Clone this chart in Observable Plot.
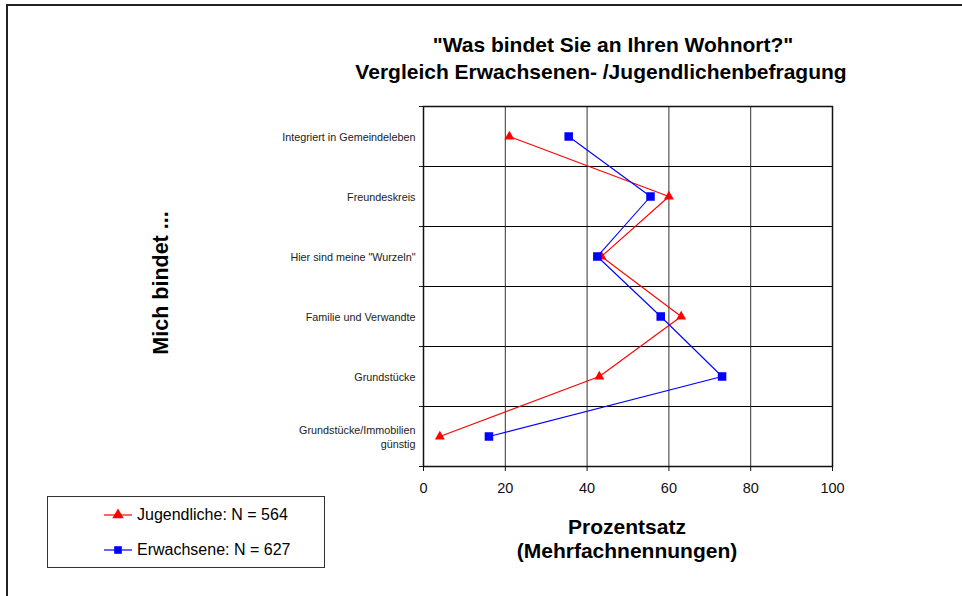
<!DOCTYPE html>
<html><head><meta charset="utf-8">
<script src="https://cdn.jsdelivr.net/npm/d3@7"></script>
<script src="https://cdn.jsdelivr.net/npm/@observablehq/plot@0.6"></script>
<style>
html,body{margin:0;padding:0;background:#fff;}
body{font-family:"Liberation Sans",Arial,sans-serif;color:#000;}
#wrap{position:relative;width:962px;height:596px;overflow:hidden;background:#fff;}
#frame{position:absolute;left:6px;top:4px;width:970px;height:600px;border-top:2px solid #222;border-left:2px solid #222;}
#chart{position:absolute;left:0;top:0;}
.t{position:absolute;white-space:nowrap;transform:translate(-50%,-50%);font-weight:bold;font-size:21px;line-height:1;}
#ytitle{position:absolute;left:162px;top:283px;transform:translate(-50%,-50%) rotate(-90deg);font-weight:bold;font-size:21.5px;white-space:nowrap;line-height:1;}
#legend{position:absolute;left:47px;top:496px;width:278px;height:72px;box-sizing:border-box;border:1.5px solid #333;background:#fff;}
.lrow{position:absolute;left:55px;height:20px;display:flex;align-items:center;transform:translateY(-50%);font-size:16px;white-space:nowrap;}
.lrow svg{margin-right:4px;}
</style>
</head><body>
<div id="wrap">
  <div id="frame"></div>
  <div id="chart"></div>
  <div class="t" style="left:613px;top:44px;">"Was bindet Sie an Ihren Wohnort?"</div>
  <div class="t" style="left:601px;top:71px;">Vergleich Erwachsenen- /Jugendlichenbefragung</div>
  <div class="t" style="left:627px;top:526px;">Prozentsatz</div>
  <div class="t" style="left:627px;top:550px;">(Mehrfachnennungen)</div>
  <div id="ytitle">Mich bindet ...</div>
  <div id="legend"></div>
</div>
<script>
const categories = ["Integriert in Gemeindeleben", "Freundeskreis", "Hier sind meine \"Wurzeln\"", "Familie und Verwandte", "Grundstücke", "Grundstücke/Immobilien günstig"];
const tickLabels = ["Integriert in Gemeindeleben", "Freundeskreis", "Hier sind meine \"Wurzeln\"", "Familie und Verwandte", "Grundstücke", "Grundstücke/Immobilien\ngünstig"];
const jugendliche = [21, 60, 43.5, 63, 43, 4];
const erwachsene = [35.5, 55.5, 42.5, 58, 73, 16];
const xTicks = [0, 20, 40, 60, 80, 100];
const seriesNames = ["Jugendliche: N = 564", "Erwachsene: N = 627"];
const seriesColors = ["#ff0000", "#0000ff"];
const seriesSymbols = ["triangle", "square"];
const seriesR = [3.7, 4.8];

const seriesValues = [jugendliche, erwachsene];
const n = categories.length;
const rowsFor = (vals) => vals.map((v, i) => ({category: categories[i], pos: i + 0.5, value: v}));

const marks = [
  Plot.gridX(xTicks.slice(1, -1), {stroke: "#333", strokeOpacity: 1}),
  Plot.gridY(d3.range(1, n), {stroke: "#000", strokeOpacity: 1}),
  Plot.frame({stroke: "#111", strokeWidth: 1.5}),
  Plot.axisX(xTicks, {tickSize: 5, tickPadding: 11, fontSize: 14.5, label: null, stroke: "#111"}),
  Plot.axisY(d3.range(0, n + 1), {tickSize: 4, tickFormat: () => "", label: null, stroke: "#111"}),
  Plot.axisY(categories.map((d, i) => i + 0.5), {tickSize: 0, tickPadding: 8, fontSize: 10.8, lineHeight: 1.3, label: null, fill: "#222", tickFormat: (d) => tickLabels[Math.floor(d)]})
];
seriesValues.forEach((vals, k) => {
  const rows = rowsFor(vals);
  marks.push(Plot.line(rows, {x: "value", y: "pos", stroke: seriesColors[k], strokeWidth: 1.1}));
  marks.push(Plot.dot(rows, {x: "value", y: "pos", symbol: seriesSymbols[k], fill: seriesColors[k], r: seriesR[k], stroke: "none"}));
});

const chart = Plot.plot({
  width: 962, height: 596,
  marginLeft: 423, marginRight: 130, marginTop: 106, marginBottom: 130,
  style: {fontFamily: "Liberation Sans, Arial, sans-serif", background: "transparent", overflow: "visible", color: "#111"},
  x: {domain: [0, 100]},
  y: {domain: [0, n], reverse: true},
  marks
});
document.getElementById("chart").appendChild(chart);

// legend
const legend = document.getElementById("legend");
const symPath = {
  triangle: d3.symbol(d3.symbolTriangle, Math.PI * seriesR[0] * seriesR[0] * 1.3)(),
  square: d3.symbol(d3.symbolSquare, Math.PI * seriesR[1] * seriesR[1] * 0.8)()
};
seriesNames.forEach((name, k) => {
  const row = document.createElement("div");
  row.className = "lrow";
  row.style.top = (k === 0 ? 18 : 53) + "px";
  row.innerHTML = `<svg width="30" height="14" viewBox="-15 -7 30 14"><line x1="-14" x2="14" y1="0" y2="0" stroke="${seriesColors[k]}" stroke-width="1.2"/><path d="${symPath[seriesSymbols[k]]}" fill="${seriesColors[k]}"/></svg><span>${name}</span>`;
  legend.appendChild(row);
});
</script>
</body></html>
